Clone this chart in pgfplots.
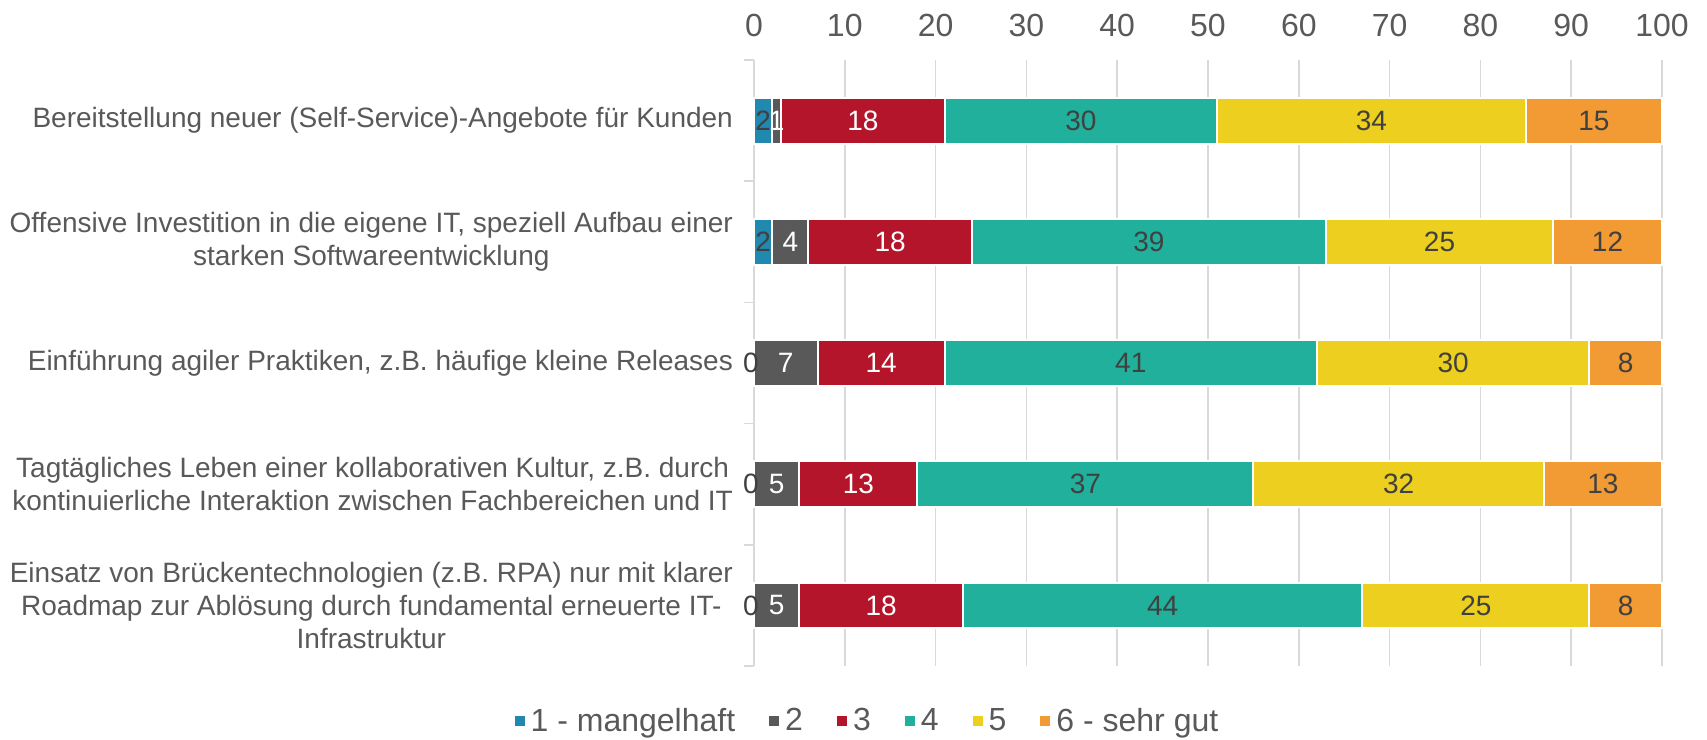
\documentclass[border=0pt]{standalone}
\usepackage{pgfplots}
\pgfplotsset{compat=1.18}
\usepackage{fontspec}
\setmainfont{Liberation Sans}
\definecolor{cBlue}{HTML}{2188B0}
\definecolor{cGray}{HTML}{595959}
\definecolor{cRed}{HTML}{B5152B}
\definecolor{cTeal}{HTML}{20B09C}
\definecolor{cYellow}{HTML}{EDCF1F}
\definecolor{cOrange}{HTML}{F29A33}
\definecolor{txt}{HTML}{595959}
\definecolor{lbl}{HTML}{404040}
\definecolor{gridc}{HTML}{D9D9D9}
\begin{document}
\begin{tikzpicture}
\path[use as bounding box] (-377pt,-36.5pt) rectangle (476.5pt,333pt);
\begin{axis}[
  at={(0,0)}, anchor=south west,
  scale only axis, width=454pt, height=303pt,
  clip=false,
  xbar stacked, bar width=22.9pt,
  xmin=0, xmax=100, ymin=-0.5, ymax=4.5, y dir=reverse,
  axis x line*=top, axis y line*=left,
  x axis line style={draw=none},
  y axis line style={draw=gridc, line width=0.8pt},
  xtick={0,10,...,100},
  xmajorgrids, grid style={gridc, line width=0.8pt},
  major tick length=0pt,
  /pgf/number format/assume math mode=true,
  xticklabel style={font=\fontsize{16}{19}\selectfont, text=txt, yshift=8pt},
  ytick={0,1,2,3,4},
  yticklabels={
    {Bereitstellung neuer (Self-Service)-Angebote für Kunden},
    {Offensive Investition in die eigene IT, speziell Aufbau einer\\starken Softwareentwicklung},
    {Einführung agiler Praktiken, z.B. häufige kleine Releases},
    {Tagtägliches Leben einer kollaborativen Kultur, z.B. durch\\kontinuierliche Interaktion zwischen Fachbereichen und IT},
    {Einsatz von Brückentechnologien (z.B. RPA) nur mit klarer\\Roadmap zur Ablösung durch fundamental erneuerte IT-\\Infrastruktur}},
  yticklabel style={font=\fontsize{14}{16.3}\selectfont, text=txt, align=center, xshift=-7pt},
  extra y ticks={-0.5,0.5,1.5,2.5,3.5,4.5},
  extra y tick labels={},
  extra y tick style={major tick length=5pt, tick align=outside, tick style={draw=gridc, line width=0.8pt}},
  nodes near coords, point meta=rawx,
  nodes near coords style={font=\fontsize{14}{16}\selectfont, text=lbl, anchor=center},
  legend style={at={(0.125,-0.091)}, anchor=center, draw=none, fill=none,
    legend columns=6, font=\fontsize{16}{19}\selectfont, text=txt,
    /tikz/every even column/.append style={column sep=14pt}},
  legend image code/.code={\fill[#1] (0pt,-3pt) rectangle (6pt,3pt);},
]
\addplot[fill=cBlue, draw=white, line width=1pt] coordinates {(2,0) (2,1) (0,2) (0,3) (0,4)};
\addplot[fill=cGray, draw=white, line width=1pt, nodes near coords style={text=white}] coordinates {(1,0) (4,1) (7,2) (5,3) (5,4)};
\addplot[fill=cRed, draw=white, line width=1pt, nodes near coords style={text=white}] coordinates {(18,0) (18,1) (14,2) (13,3) (18,4)};
\addplot[fill=cTeal, draw=white, line width=1pt] coordinates {(30,0) (39,1) (41,2) (37,3) (44,4)};
\addplot[fill=cYellow, draw=white, line width=1pt] coordinates {(34,0) (25,1) (30,2) (32,3) (25,4)};
\addplot[fill=cOrange, draw=white, line width=1pt] coordinates {(15,0) (12,1) (8,2) (13,3) (8,4)};
\legend{1 - mangelhaft, 2, 3, 4, 5, 6 - sehr gut}
% zero values of series "1 - mangelhaft", labelled on top
\addplot[forget plot, stack plots=false, sharp plot, draw=none, fill=none, mark=none,
  nodes near coords, point meta=explicit symbolic,
  nodes near coords style={anchor=center, xshift=-1.5pt, text=lbl}]
  coordinates {(0,2) [0] (0,3) [0] (0,4) [0]};
\end{axis}
\end{tikzpicture}
\end{document}
